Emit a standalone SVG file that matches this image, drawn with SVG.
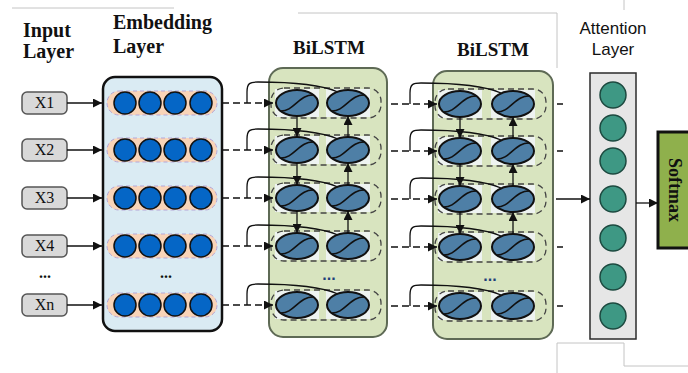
<svg xmlns="http://www.w3.org/2000/svg" width="688" height="373" viewBox="0 0 688 373">
<defs>
<marker id="ah" viewBox="0 0 10 10" refX="10" refY="5" markerWidth="9" markerHeight="9" markerUnits="userSpaceOnUse" orient="auto"><path d="M0,0 L10,5 L0,10 z" fill="#111"/></marker>
<g id="sig"><path d="M-17,8 C-3,9 2,-9 17,-8" fill="none" stroke="#111" stroke-width="1.6"/></g>
</defs>
<style>
.ttl{font-family:"Liberation Serif",serif;font-weight:bold;font-size:20px;fill:#111}
.bt{font-family:"Liberation Serif",serif;font-weight:bold;font-size:19px;fill:#111}
.xl{font-family:"Liberation Serif",serif;font-size:16px;fill:#111;text-anchor:middle}
.at{font-family:"Liberation Sans",Arial,sans-serif;font-size:17px;fill:#111;text-anchor:middle}
.ib{fill:#d9d9d9;stroke:#555;stroke-width:1.5}
.pill{fill:#f9d4b8;stroke:#b4a6d8;stroke-width:1;stroke-dasharray:4 3}
.ec{fill:#0566c6;stroke:#111;stroke-width:1.5}
.lbox{fill:#d8e4bf;stroke:#5e6a55;stroke-width:2}
.cbg{fill:#eef3f1}
.cell{fill:#4e7fa6;stroke:#111;stroke-width:2}
.dbord{fill:none;stroke:#444;stroke-width:1.3;stroke-dasharray:6 4}
.sol{fill:none;stroke:#111;stroke-width:1.3}
.dsh{fill:none;stroke:#111;stroke-width:1.3;stroke-dasharray:7 4}
.acirc{fill:#3e9884;stroke:#1d4a40;stroke-width:1.5}
.frame{fill:none;stroke:#c4c4c4;stroke-width:1}
</style>
<g id="frame-lines">
<path class="frame" d="M12,8 H174 M298,13 H557 V68 M624,0 V10 M557,373 V343 H624 V366 H688"/>
</g>
<g id="titles">
<text class="ttl" x="23" y="37">Input</text>
<text class="ttl" x="23" y="58">Layer</text>
<text class="ttl" x="113" y="29">Embedding</text>
<text class="ttl" x="113" y="53">Layer</text>
<text class="bt" x="329" y="54" text-anchor="middle">BiLSTM</text>
<text class="bt" x="493" y="56" text-anchor="middle">BiLSTM</text>
<text class="at" x="613" y="34">Attention</text>
<text class="at" x="613" y="55">Layer</text>
</g>
<g id="input-layer">
<g id="x1"><rect class="ib" x="22" y="92" width="45" height="22" rx="5"/><text class="xl" x="44.5" y="108">X1</text></g>
<g id="x2"><rect class="ib" x="22" y="139" width="45" height="22" rx="5"/><text class="xl" x="44.5" y="155">X2</text></g>
<g id="x3"><rect class="ib" x="22" y="187" width="45" height="22" rx="5"/><text class="xl" x="44.5" y="203">X3</text></g>
<g id="x4"><rect class="ib" x="22" y="235" width="45" height="22" rx="5"/><text class="xl" x="44.5" y="251">X4</text></g>
<text class="xl" x="45" y="278" style="font-weight:bold">...</text>
<g id="xn"><rect class="ib" x="22" y="294" width="45" height="22" rx="5"/><text class="xl" x="44.5" y="310">Xn</text></g>
</g>
<g id="embedding-layer">
<rect x="103" y="77" width="119" height="254" rx="12" fill="#daebf3" stroke="#111" stroke-width="2.5"/>
<g id="emb-rows">
<rect class="pill" x="107" y="91" width="110" height="24" rx="12"/>
<circle class="ec" cx="125" cy="103" r="11"/><circle class="ec" cx="150" cy="103" r="11"/><circle class="ec" cx="175" cy="103" r="11"/><circle class="ec" cx="201" cy="103" r="11"/>
<rect class="pill" x="107" y="138" width="110" height="24" rx="12"/>
<circle class="ec" cx="125" cy="150" r="11"/><circle class="ec" cx="150" cy="150" r="11"/><circle class="ec" cx="175" cy="150" r="11"/><circle class="ec" cx="201" cy="150" r="11"/>
<rect class="pill" x="107" y="186" width="110" height="24" rx="12"/>
<circle class="ec" cx="125" cy="198" r="11"/><circle class="ec" cx="150" cy="198" r="11"/><circle class="ec" cx="175" cy="198" r="11"/><circle class="ec" cx="201" cy="198" r="11"/>
<rect class="pill" x="107" y="234" width="110" height="24" rx="12"/>
<circle class="ec" cx="125" cy="246" r="11"/><circle class="ec" cx="150" cy="246" r="11"/><circle class="ec" cx="175" cy="246" r="11"/><circle class="ec" cx="201" cy="246" r="11"/>
<text class="xl" x="166" y="278" style="font-weight:bold">...</text>
<rect class="pill" x="107" y="293" width="110" height="24" rx="12"/>
<circle class="ec" cx="125" cy="305" r="11"/><circle class="ec" cx="150" cy="305" r="11"/><circle class="ec" cx="175" cy="305" r="11"/><circle class="ec" cx="201" cy="305" r="11"/>
</g>
</g>
<g id="bilstm-1">
<rect class="lbox" x="269" y="68" width="118" height="269" rx="14"/>
<g id="b1-cells">
<rect class="cbg" x="275" y="89" width="44" height="28"/><rect class="cbg" x="326" y="89" width="44" height="28"/>
<rect class="dbord" x="271" y="88" width="110" height="30" rx="13"/>
<ellipse class="cell" cx="297" cy="103" rx="21" ry="13"/><use href="#sig" x="297" y="103"/>
<ellipse class="cell" cx="348" cy="103" rx="21" ry="13"/><use href="#sig" x="348" y="103"/>
<rect class="cbg" x="275" y="136" width="44" height="28"/><rect class="cbg" x="326" y="136" width="44" height="28"/>
<rect class="dbord" x="271" y="135" width="110" height="30" rx="13"/>
<ellipse class="cell" cx="297" cy="150" rx="21" ry="13"/><use href="#sig" x="297" y="150"/>
<ellipse class="cell" cx="348" cy="150" rx="21" ry="13"/><use href="#sig" x="348" y="150"/>
<rect class="cbg" x="275" y="184" width="44" height="28"/><rect class="cbg" x="326" y="184" width="44" height="28"/>
<rect class="dbord" x="271" y="183" width="110" height="30" rx="13"/>
<ellipse class="cell" cx="297" cy="198" rx="21" ry="13"/><use href="#sig" x="297" y="198"/>
<ellipse class="cell" cx="348" cy="198" rx="21" ry="13"/><use href="#sig" x="348" y="198"/>
<rect class="cbg" x="275" y="232" width="44" height="28"/><rect class="cbg" x="326" y="232" width="44" height="28"/>
<rect class="dbord" x="271" y="231" width="110" height="30" rx="13"/>
<ellipse class="cell" cx="297" cy="246" rx="21" ry="13"/><use href="#sig" x="297" y="246"/>
<ellipse class="cell" cx="348" cy="246" rx="21" ry="13"/><use href="#sig" x="348" y="246"/>
<text x="329" y="280" text-anchor="middle" style="font-family:'Liberation Sans',sans-serif;font-weight:bold;font-size:16px;fill:#1f3f7a">...</text>
<rect class="cbg" x="275" y="291" width="44" height="28"/><rect class="cbg" x="326" y="291" width="44" height="28"/>
<rect class="dbord" x="271" y="290" width="110" height="30" rx="13"/>
<ellipse class="cell" cx="297" cy="305" rx="21" ry="13"/><use href="#sig" x="297" y="305"/>
<ellipse class="cell" cx="348" cy="305" rx="21" ry="13"/><use href="#sig" x="348" y="305"/>
</g>
</g>
<g id="bilstm-2">
<rect class="lbox" x="433" y="71" width="120" height="268" rx="14"/>
<g id="b2-cells">
<rect class="cbg" x="438" y="90" width="44" height="28"/><rect class="cbg" x="491" y="90" width="44" height="28"/>
<rect class="dbord" x="435" y="89" width="111" height="30" rx="13"/>
<ellipse class="cell" cx="460" cy="104" rx="21" ry="13"/><use href="#sig" x="460" y="104"/>
<ellipse class="cell" cx="513" cy="104" rx="21" ry="13"/><use href="#sig" x="513" y="104"/>
<rect class="cbg" x="438" y="137" width="44" height="28"/><rect class="cbg" x="491" y="137" width="44" height="28"/>
<rect class="dbord" x="435" y="136" width="111" height="30" rx="13"/>
<ellipse class="cell" cx="460" cy="151" rx="21" ry="13"/><use href="#sig" x="460" y="151"/>
<ellipse class="cell" cx="513" cy="151" rx="21" ry="13"/><use href="#sig" x="513" y="151"/>
<rect class="cbg" x="438" y="185" width="44" height="28"/><rect class="cbg" x="491" y="185" width="44" height="28"/>
<rect class="dbord" x="435" y="184" width="111" height="30" rx="13"/>
<ellipse class="cell" cx="460" cy="199" rx="21" ry="13"/><use href="#sig" x="460" y="199"/>
<ellipse class="cell" cx="513" cy="199" rx="21" ry="13"/><use href="#sig" x="513" y="199"/>
<rect class="cbg" x="438" y="233" width="44" height="28"/><rect class="cbg" x="491" y="233" width="44" height="28"/>
<rect class="dbord" x="435" y="232" width="111" height="30" rx="13"/>
<ellipse class="cell" cx="460" cy="247" rx="21" ry="13"/><use href="#sig" x="460" y="247"/>
<ellipse class="cell" cx="513" cy="247" rx="21" ry="13"/><use href="#sig" x="513" y="247"/>
<text x="490" y="281" text-anchor="middle" style="font-family:'Liberation Sans',sans-serif;font-weight:bold;font-size:16px;fill:#1f3f7a">...</text>
<rect class="cbg" x="438" y="292" width="44" height="28"/><rect class="cbg" x="491" y="292" width="44" height="28"/>
<rect class="dbord" x="435" y="291" width="111" height="30" rx="13"/>
<ellipse class="cell" cx="460" cy="306" rx="21" ry="13"/><use href="#sig" x="460" y="306"/>
<ellipse class="cell" cx="513" cy="306" rx="21" ry="13"/><use href="#sig" x="513" y="306"/>
</g>
</g>
<g id="attention-layer">
<rect x="590" y="73" width="46" height="266" fill="#e6e6e6" stroke="#2b2b2b" stroke-width="1.5"/>
<circle class="acirc" cx="613" cy="95" r="13"/>
<circle class="acirc" cx="613" cy="128" r="13"/>
<circle class="acirc" cx="613" cy="161" r="13"/>
<circle class="acirc" cx="613" cy="199" r="13"/>
<circle class="acirc" cx="613" cy="238" r="13"/>
<circle class="acirc" cx="613" cy="277" r="13"/>
<circle class="acirc" cx="613" cy="316" r="13"/>
</g>
<g id="softmax">
<rect x="658" y="132" width="42" height="116" fill="#8fb04c" stroke="#111" stroke-width="3"/>
<text class="bt" transform="translate(675,190) rotate(90)" x="0" y="6" text-anchor="middle" style="font-size:18px">Softmax</text>
</g>
<g id="connectors">
<path class="sol" d="M67,103 H102" marker-end="url(#ah)"/>
<path class="sol" d="M67,150 H102" marker-end="url(#ah)"/>
<path class="sol" d="M67,198 H102" marker-end="url(#ah)"/>
<path class="sol" d="M67,246 H102" marker-end="url(#ah)"/>
<path class="sol" d="M67,305 H102" marker-end="url(#ah)"/>
<path class="dsh" d="M222,103 H273" marker-end="url(#ah)"/>
<path class="dsh" d="M222,150 H273" marker-end="url(#ah)"/>
<path class="dsh" d="M222,198 H273" marker-end="url(#ah)"/>
<path class="dsh" d="M222,246 H273" marker-end="url(#ah)"/>
<path class="dsh" d="M222,305 H273" marker-end="url(#ah)"/>
<path class="sol" d="M247,103 V92 C247,83 250,82 258,82 C290,82 322,85 338,92"/>
<path class="sol" d="M247,150 V139 C247,130 250,129 258,129 C290,129 322,132 338,139"/>
<path class="sol" d="M247,198 V187 C247,178 250,177 258,177 C290,177 322,180 338,187"/>
<path class="sol" d="M247,246 V235 C247,226 250,225 258,225 C290,225 322,228 338,235"/>
<path class="sol" d="M247,305 V294 C247,285 250,284 258,284 C290,284 322,287 338,294"/>
<path class="sol" d="M297,116 V137" marker-end="url(#ah)"/>
<path class="sol" d="M297,163 V185" marker-end="url(#ah)"/>
<path class="sol" d="M297,211 V233" marker-end="url(#ah)"/>
<path class="sol" d="M348,137 V116" marker-end="url(#ah)"/>
<path class="sol" d="M348,185 V163" marker-end="url(#ah)"/>
<path class="sol" d="M348,233 V211" marker-end="url(#ah)"/>
<path class="dsh" d="M391,104 H437" marker-end="url(#ah)"/>
<path class="dsh" d="M391,151 H437" marker-end="url(#ah)"/>
<path class="dsh" d="M391,199 H437" marker-end="url(#ah)"/>
<path class="dsh" d="M391,247 H437" marker-end="url(#ah)"/>
<path class="dsh" d="M391,306 H437" marker-end="url(#ah)"/>
<path class="sol" d="M410,104 V93 C410,84 413,83 421,83 C453,83 485,86 501,93"/>
<path class="sol" d="M410,151 V140 C410,131 413,130 421,130 C453,130 485,133 501,140"/>
<path class="sol" d="M410,199 V188 C410,179 413,178 421,178 C453,178 485,181 501,188"/>
<path class="sol" d="M410,247 V236 C410,227 413,226 421,226 C453,226 485,229 501,236"/>
<path class="sol" d="M410,306 V295 C410,286 413,285 421,285 C453,285 485,288 501,295"/>
<path class="sol" d="M460,117 V138" marker-end="url(#ah)"/>
<path class="sol" d="M460,164 V186" marker-end="url(#ah)"/>
<path class="sol" d="M460,212 V234" marker-end="url(#ah)"/>
<path class="sol" d="M513,138 V117" marker-end="url(#ah)"/>
<path class="sol" d="M513,186 V164" marker-end="url(#ah)"/>
<path class="sol" d="M513,234 V212" marker-end="url(#ah)"/>
<path class="dsh" d="M557,104 H563 M557,151 H563 M557,247 H563 M557,306 H563"/>
<path class="sol" d="M556,199 H590" marker-end="url(#ah)"/>
<path class="sol" d="M636,203 H658" marker-end="url(#ah)"/>
</g>
</svg>
